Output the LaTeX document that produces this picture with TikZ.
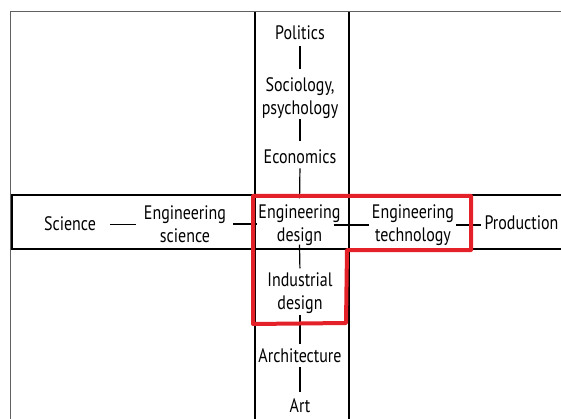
\documentclass[tikz,border=0pt]{standalone}
\usepackage{fontspec}
\setmainfont[FakeStretch=0.82]{PT Sans}
\begin{document}
\begin{tikzpicture}[x=1pt,y=-1pt,
  lbl/.style={font=\fontsize{19.5}{23}\selectfont, align=center, inner sep=0pt},
  one/.style={lbl, anchor=base},
  conn/.style={line width=1.2pt, black},
  band/.style={line width=1.1pt, black},
  frame/.style={line width=1pt, black!62},
  hilite/.style={line width=4pt, draw={rgb,255:red,228;green,32;blue,40}, line join=round}]
\useasboundingbox (0,0) rectangle (561,419);
% outer frame
\draw[frame] (10.5,419) -- (10.5,12) -- (561,12);
% horizontal band
\draw[band] (561,195) -- (12,195) -- (12,249) -- (561,249);
% vertical band
\draw[band] (255,12) -- (255,419);
\draw[band] (349,12) -- (349,419);
% nodes
\node[one] (pol)  at (300,40)  {Politics};
\node[lbl] (soc)  at (300,98.5) {Sociology,\\psychology};
\node[one] (eco)  at (300,164) {Economics};
\node[lbl] (ed)   at (299.5,225) {Engineering\\design};
\node[lbl] (ind)  at (300,293.5) {Industrial\\design};
\node[one] (arch) at (300,362) {Architecture};
\node[one] (art)  at (300,412) {Art};
\node[one] (sci)  at (70,231)  {Science};
\node[lbl] (es)   at (185,224) {Engineering\\science};
\node[lbl] (et)   at (413,225) {Engineering\\technology};
\node[one] (prod) at (521.5,230) {Production};
% connectors
\draw[conn, shorten <=6pt, shorten >=8.4pt] (pol.south) -- (soc.north);
\draw[conn, shorten <=0pt, shorten >=9pt] (soc.south) -- (eco.north);
\draw[conn, shorten <=4pt, shorten >=6pt] (eco.south) -- (ed.north);
\draw[conn, shorten <=-1pt, shorten >=4.4pt] (ed.south) -- (ind.north);
\draw[conn, shorten <=1pt, shorten >=4.4pt] (ind.south) -- (arch.north);
\draw[conn, shorten <=5pt, shorten >=6pt] (arch.south) -- (art.north);
\draw[conn, shorten <=14pt, shorten >=8pt] (sci.east) -- (sci.east -| es.west);
\draw[conn, shorten <=7pt, shorten >=1pt] (es.east) -- (es.east -| ed.west);
\draw[conn, shorten <=-7pt, shorten >=3pt] (ed.east) -- (ed.east -| et.west);
\draw[conn, shorten <=2pt, shorten >=3pt] (et.east) -- (et.east -| prod.west);
% highlight
\draw[hilite] (253,196) -- (471,196) -- (471,250) -- (347,250) -- (346,323) -- (253,324) -- cycle;
\end{tikzpicture}
\end{document}
